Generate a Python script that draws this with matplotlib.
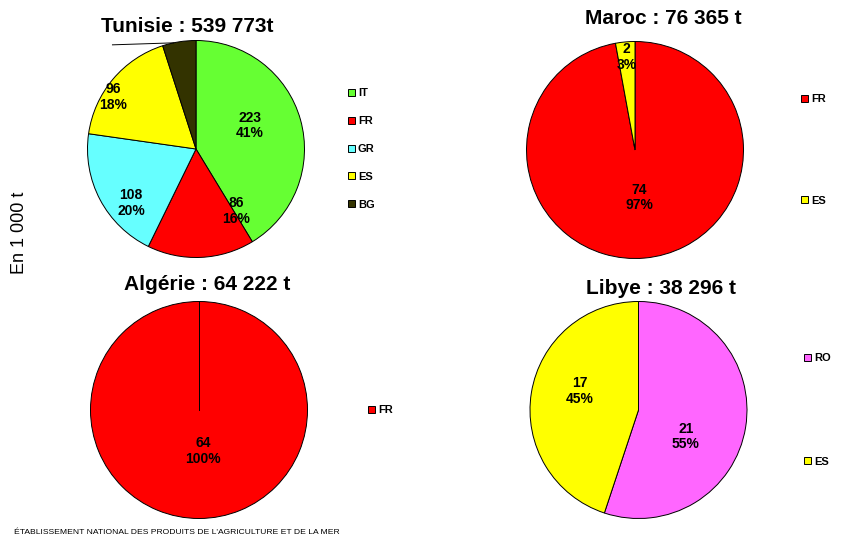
import numpy as np
import matplotlib
matplotlib.use("Agg")
import matplotlib.pyplot as plt

plt.rcParams['font.family'] = ['Liberation Sans', 'DejaVu Sans']

# Tonnages en milliers de tonnes
tunisie_pays = ['IT', 'FR', 'GR', 'ES', 'BG']
tunisie_vals = [223.0, 86.0, 108.0, 96.0, 26.8]
maroc_pays = ['FR', 'ES']
maroc_vals = [74.2, 2.2]
algerie_pays = ['FR']
algerie_vals = [64.2]
libye_pays = ['RO', 'ES']
libye_vals = [21.1, 17.2]

titres = ['Tunisie : 539 773t', 'Maroc : 76 365 t',
          'Algérie : 64 222 t', 'Libye : 38 296 t']

couleurs = {'IT': '#66FF33', 'FR': '#FF0000', 'GR': '#66FFFF',
            'ES': '#FFFF00', 'BG': '#333300', 'RO': '#FF66FF'}

W, H = 854, 536
R = 108.5


def px_box(cx, cy, r=R):
    return [(cx - r) / W, 1 - (cy + r) / H, 2 * r / W, 2 * r / H]


# (centre x, centre y, pays, valeurs, titre, pos titre, legende x, espacement legende,
#  distance des etiquettes, decalage angulaire des etiquettes)
graphes = [
    (196, 149, tunisie_pays, tunisie_vals, titres[0], (187, 26), 338, 1.6,
     [0.54, 0.68, 0.78, 0.9, None], [8, 30, 12, 8, 0]),
    (635, 150, maroc_pays, maroc_vals, titres[1], (663, 18), 791, 8.2,
     [0.44, 0.86], [0, 0]),
    (199, 410, algerie_pays, algerie_vals, titres[2], (207, 284), 358, 1.0,
     [0.38], [6]),
    (638.5, 410, libye_pays, libye_vals, titres[3], (661, 288), 794, 8.4,
     [0.5, 0.57], [-20, -9]),
]

fig = plt.figure(figsize=(W / 100, H / 100), dpi=100)

for cx, cy, pays, vals, titre, tpos, lx, lsp, dists, decal in graphes:
    ax = fig.add_axes(px_box(cx, cy))
    wedges, _ = ax.pie(vals, colors=[couleurs[p] for p in pays],
                       startangle=90, counterclock=False,
                       wedgeprops=dict(edgecolor='black', linewidth=0.7))
    ax.set_xlim(-1, 1)
    ax.set_ylim(-1, 1)
    ax.set_aspect('equal')
    ax.axis('off')
    if len(vals) == 1:
        # secteur unique : trait du centre vers le depart
        a0 = np.deg2rad(wedges[0].theta1)
        ax.plot([0, np.cos(a0)], [0, np.sin(a0)], color='black', linewidth=0.7)
    total = sum(vals)
    for w, v, d, s in zip(wedges, vals, dists, decal):
        if d is None:
            continue
        ang = np.deg2rad((w.theta1 + w.theta2) / 2 + s)
        ax.text(d * np.cos(ang), d * np.sin(ang),
                f"{v:.0f}\n{v / total * 100:.0f}%", ha='center', va='center',
                fontsize=10, fontweight='bold', linespacing=1.15)
    fig.text(tpos[0] / W, 1 - tpos[1] / H, titre, ha='center', va='center',
             fontsize=15, fontweight='bold')
    ax.legend(wedges, pays, loc='center left',
              bbox_to_anchor=(lx / W, 1 - cy / H), bbox_transform=fig.transFigure,
              frameon=False, handlelength=0.6, handleheight=0.6,
              handletextpad=0.3, labelspacing=lsp,
              prop=dict(size=8, weight='bold'))
    if pays == tunisie_pays:
        # trait de rappel de l'etiquette BG
        w = wedges[-1]
        ang = np.deg2rad((w.theta1 + w.theta2) / 2 + 3)
        ax.plot([np.cos(ang), -0.77], [np.sin(ang), 0.96],
                color='black', linewidth=0.7, clip_on=False)

fig.text(20 / W, 1 - 233 / H, 'En 1 000 t', rotation=90, ha='center',
         va='center', fontsize=13)
fig.text(14 / W, 1 - 529 / H,
         "ÉTABLISSEMENT NATIONAL DES PRODUITS DE L'AGRICULTURE ET DE LA MER",
         ha='left', va='top', fontsize=6.1)

fig.savefig('out.png', dpi=100)
